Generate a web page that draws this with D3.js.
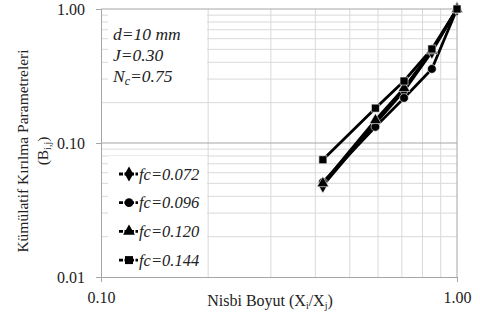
<!DOCTYPE html>
<html>
<head>
<meta charset="utf-8">
<script src="https://cdn.jsdelivr.net/npm/d3@7"></script>
<style>
  body { margin: 0; background: #fff; }
  svg text { font-family: "Liberation Serif", "DejaVu Serif", serif; }
</style>
</head>
<body>
<svg id="chart" width="480" height="320"></svg>
<script>
// sizes (X_i/X_j)
const sizes = [0.42, 0.59, 0.71, 0.85, 1.0];
const seriesNames = ["fc=0.072", "fc=0.096", "fc=0.120", "fc=0.144"];
const fc072 = [0.048, 0.140, 0.245, 0.480, 1.0];
const fc096 = [0.051, 0.132, 0.217, 0.357, 1.0];
const fc120 = [0.050, 0.148, 0.257, 0.490, 1.0];
const fc144 = [0.075, 0.182, 0.290, 0.503, 1.0];
const markers = [d3.symbolDiamond, d3.symbolCircle, d3.symbolTriangle, d3.symbolSquare];
const xTicks = [0.1, 1];
const yTicks = [0.01, 0.1, 1];
const notes = ["d=10 mm", "J=0.30", "N_c=0.75"];

const svg = d3.select("#chart");
const pLeft = 101, pRight = 457, pTop = 9, pBottom = 277;

const x = d3.scaleLog().domain([0.1, 1]).range([pLeft, pRight]);
const y = d3.scaleLog().domain([0.01, 1]).range([pBottom, pTop]);

// grid: minor then major
const minorX = d3.range(2, 10).map(d => d / 10);
const minorY = [];
[0.01, 0.1].forEach(b => d3.range(2, 10).forEach(k => minorY.push(b * k)));

const grid = svg.append("g");
grid.selectAll(".mx").data(minorX).join("line")
  .attr("x1", d => x(d)).attr("x2", d => x(d))
  .attr("y1", pTop).attr("y2", pBottom)
  .attr("stroke", "#d9d9d9").attr("stroke-width", 1);
grid.selectAll(".my").data(minorY).join("line")
  .attr("x1", pLeft).attr("x2", pRight)
  .attr("y1", d => y(d)).attr("y2", d => y(d))
  .attr("stroke", "#d9d9d9").attr("stroke-width", 1);
grid.selectAll(".My").data([0.1, 1]).join("line")
  .attr("x1", pLeft).attr("x2", pRight)
  .attr("y1", d => y(d)).attr("y2", d => y(d))
  .attr("stroke", "#a6a6a6").attr("stroke-width", 1);
grid.append("line").attr("x1", pRight).attr("x2", pRight).attr("y1", pTop).attr("y2", pBottom)
  .attr("stroke", "#a6a6a6");

// white boxes for annotation and legend
svg.append("rect").attr("x", 108).attr("y", 10).attr("width", 99).attr("height", 84).attr("fill", "#fff");
svg.append("rect").attr("x", 108).attr("y", 156).attr("width", 99).attr("height", 117).attr("fill", "#fff");

// axes
const xAxis = d3.axisBottom(x).tickValues(xTicks).tickFormat(d3.format(".2f")).tickSize(5).tickPadding(10);
const yAxis = d3.axisLeft(y).tickValues(yTicks).tickFormat(d3.format(".2f")).tickSize(5).tickPadding(11);
const gx = svg.append("g").attr("transform", `translate(0,${pBottom})`).call(xAxis);
const gy = svg.append("g").attr("transform", `translate(${pLeft},0)`).call(yAxis);
[gx, gy].forEach(g => {
  g.select(".domain").attr("stroke", "#a6a6a6");
  g.selectAll(".tick line").attr("stroke", "#a6a6a6");
  g.selectAll("text").attr("font-size", 16).attr("fill", "#222")
    .attr("font-family", "Liberation Serif, serif");
});

// series
const allSeries = [fc072, fc096, fc120, fc144];
const line = d3.line().x((d, i) => x(sizes[i])).y(d => y(d));
const sz = [64, 60, 60, 64];
allSeries.forEach((vals, s) => {
  svg.append("path").datum(vals).attr("d", line)
    .attr("fill", "none").attr("stroke", "#000").attr("stroke-width", 2.8);
});
allSeries.forEach((vals, s) => {
  svg.selectAll(".m" + s).data(vals).join("path")
    .attr("transform", (d, i) => `translate(${x(sizes[i])},${y(d)})`)
    .attr("d", d3.symbol().type(markers[s]).size(sz[s]))
    .attr("fill", "#000").attr("stroke", "#fff").attr("stroke-width", 0.6);
});

// annotation
const ann = svg.append("g").attr("font-style", "italic").attr("font-size", 17.5).attr("fill", "#222");
ann.append("text").attr("x", 113).attr("y", 40).text(notes[0]);
ann.append("text").attr("x", 113).attr("y", 61).text(notes[1]);
const nt = ann.append("text").attr("x", 113).attr("y", 82);
nt.append("tspan").text("N");
nt.append("tspan").attr("font-size", 12).attr("dy", 3).text("c");
nt.append("tspan").attr("dy", -3).text("=0.75");

// legend
const lg = svg.append("g");
seriesNames.forEach((name, i) => {
  const cy = 174 + i * 28.7;
  lg.append("line").attr("x1", 119).attr("x2", 138).attr("y1", cy).attr("y2", cy)
    .attr("stroke", "#000").attr("stroke-width", 2.8).attr("stroke-dasharray", "4,1.5");
  lg.append("path").attr("transform", `translate(129,${cy})`)
    .attr("d", d3.symbol().type(markers[i]).size(sz[i])).attr("fill", "#000");
  lg.append("text").attr("x", 139).attr("y", cy + 5.5)
    .attr("font-family", "Lato, Carlito, sans-serif").attr("font-style", "italic")
    .attr("font-size", 16.5).attr("fill", "#222").text(name);
});

// axis titles
const xt = svg.append("text").attr("x", 270).attr("y", 306).attr("text-anchor", "middle")
  .attr("font-size", 16).attr("fill", "#222");
xt.append("tspan").text("Nisbi Boyut (X");
xt.append("tspan").attr("font-size", 10).attr("dy", 3).text("i");
xt.append("tspan").attr("dy", -3).text("/X");
xt.append("tspan").attr("font-size", 10).attr("dy", 3).text("j");
xt.append("tspan").attr("dy", -3).text(")");

const yt = svg.append("g").attr("transform", "translate(28,151) rotate(-90)");
yt.append("text").attr("x", 0).attr("y", 0).attr("text-anchor", "middle")
  .attr("font-size", 15.5).attr("fill", "#222").text("Kümülatif Kırılma Parametreleri");
const yt2 = yt.append("text").attr("x", 0).attr("y", 20).attr("text-anchor", "middle")
  .attr("font-size", 15.5).attr("fill", "#222");
yt2.append("tspan").text("(B");
yt2.append("tspan").attr("font-size", 10).attr("dy", 3).text("i,j");
yt2.append("tspan").attr("dy", -3).text(")");
</script>
</body>
</html>
